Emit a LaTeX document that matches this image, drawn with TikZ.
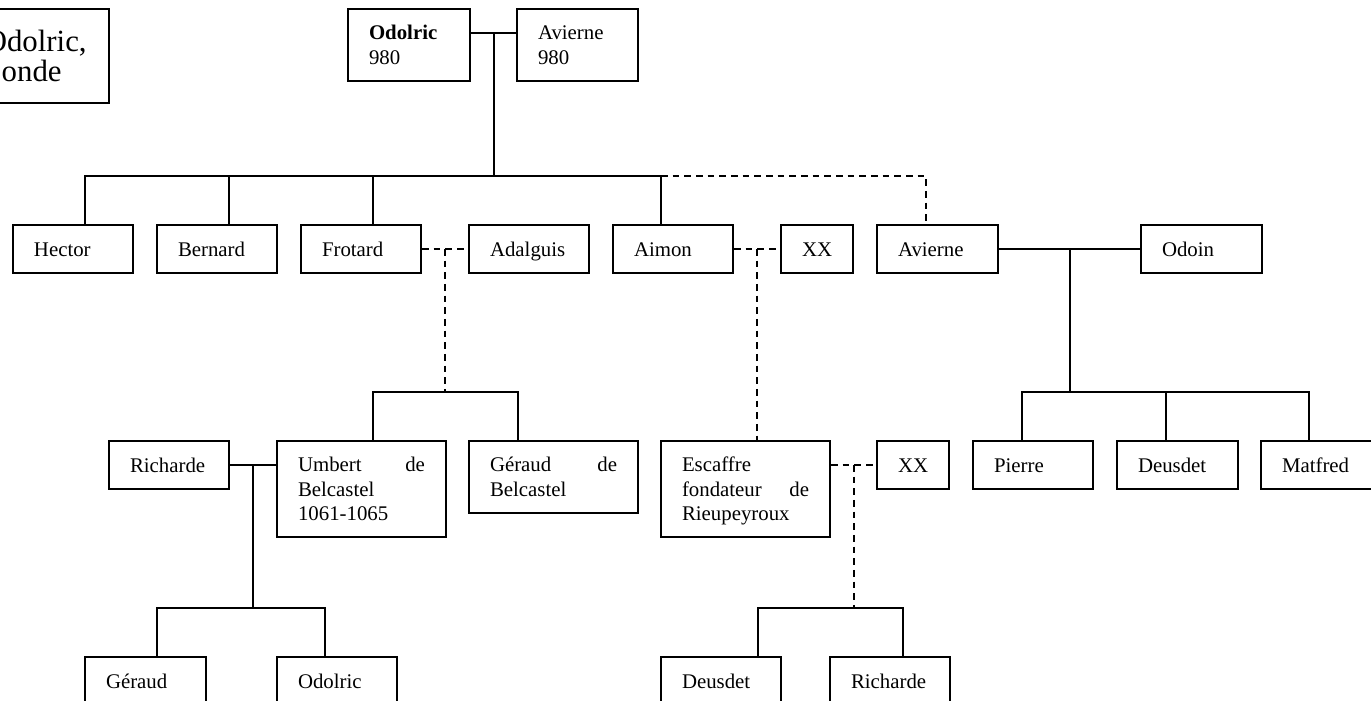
\documentclass[tikz,border=0pt]{standalone}
\usepackage{fontspec}
\setmainfont{Liberation Serif}
\usetikzlibrary{positioning, calc}

\begin{document}
\begin{tikzpicture}[x=0.6pt, y=-0.6pt]
	\tikzset{
		person/.style={
				draw, line width=1.2pt, anchor=north west, align=left,
				inner xsep=12.6pt, inner ysep=0pt, minimum height=28.8pt,
				font=\fontsize{12.5}{14.7}\selectfont,
				execute at begin node=\rule[-3.1pt]{0pt}{14.7pt},
				execute at end node=\rule[-3.1pt]{0pt}{14.7pt},
			},
		w120/.style={text width=46.8pt},
		w121/.style={text width=47.4pt},
		w122/.style={text width=48pt},
		w72/.style={text width=18pt},
		w169/.style={text width=76.2pt},
		h72/.style={minimum height=43.2pt},
		h96/.style={minimum height=57.6pt},
		link/.style={line width=1.2pt},
		wed/.style={line width=1.2pt, dash pattern=on 4pt off 3pt},
	}
	\useasboundingbox (0,0) rectangle (1371,701);
	\clip (0,0) rectangle (1371,701);

	% title box
	\node[draw, line width=1.2pt, anchor=north west, minimum width=88.8pt, minimum height=56.4pt] (ttl) at (-40,8) {};
	\node[anchor=base east, inner sep=0pt, font=\fontsize{18.5}{22}\selectfont] (ttlA) at (87,52) {Odolric,};
	\node[anchor=base east, inner sep=0pt, font=\fontsize{18.5}{22}\selectfont] (ttlB) at (62,82) {onde};

	% first couple
	\node[person, w122, h72] (odolric) at (347,8) {\textbf{Odolric}\\980};
	\node[person, w121, h72] (avierneA) at (516,8) {Avierne\\980};

	% their children
	\node[person, w120] (hector) at (12,224) {Hector};
	\node[person, w120] (bernard) at (156,224) {Bernard};
	\node[person, w120] (frotard) at (300,224) {Frotard};
	\node[person, w120] (adalguis) at (468,224) {Adalguis};
	\node[person, w120] (aimon) at (612,224) {Aimon};
	\node[person, w72] (xxA) at (780,224) {XX};
	\node[person, w121] (avierneB) at (876,224) {Avierne};
	\node[person, w121] (odoin) at (1140,224) {Odoin};

	% grandchildren
	\node[person, w120] (richardeA) at (108,440) {Richarde};
	\node[person, w169, h96] (umbert) at (276,440) {Umbert\hfill de\\Belcastel\\1061-1065};
	\node[person, w169, h72] (gerB) at (468,440) {Géraud\hfill de\\Belcastel};
	\node[person, w169, h96] (escaffre) at (660,440) {Escaffre\\fondateur\hfill de\\Rieupeyroux};
	\node[person, w72] (xxB) at (876,440) {XX};
	\node[person, w120] (pierre) at (972,440) {Pierre};
	\node[person, w121] (deusdetA) at (1116,440) {Deusdet};
	\node[person, w120] (matfred) at (1260,440) {Matfred};

	% last row
	\node[person, w121] (geraud) at (84,656) {Géraud};
	\node[person, w120] (odolricB) at (276,656) {Odolric};
	\node[person, w120] (deusdetB) at (660,656) {Deusdet};
	\node[person, w120] (richardeB) at (829,656) {Richarde};

	% Odolric + Avierne
	\draw[link] ([yshift=7.2pt]odolric.east) -- ([yshift=7.2pt]avierneA.west);
	\coordinate (cpl1) at ($([yshift=7.2pt]odolric.east)!.5!([yshift=7.2pt]avierneA.west)$);
	\draw[link] (cpl1) -- ++(0,144);
	\draw[link] ([xshift=7.2pt]hector.north) |- ([xshift=-7.2pt,yshift=28.8pt]aimon.north) -- ([xshift=-7.2pt]aimon.north);
	\foreach \n in {bernard,frotard}
	\draw[link] ([xshift=7.2pt]\n.north) -- ++(0,-48);
	\draw[wed] ([xshift=-7.2pt,yshift=28.8pt]aimon.north) -| ([xshift=-6.9pt]avierneB.north);

	% Frotard + Adalguis
	\draw[wed] (frotard.east) -- (adalguis.west);
	\coordinate (cpl2) at ($(frotard.east)!.5!(adalguis.west)$);
	\draw[wed] (cpl2) -- ++(0,144);
	\draw[link] ([xshift=6.9pt]umbert.north) |- ([xshift=-21.3pt,yshift=28.8pt]gerB.north) -- ([xshift=-21.3pt]gerB.north);

	% Aimon + XX
	\draw[wed] (aimon.east) -- (xxA.west);
	\coordinate (cpl3) at ($(aimon.east)!.5!(xxA.west)$);
	\draw[wed] (cpl3) -- (cpl3 |- escaffre.north);

	% Avierne + Odoin
	\draw[link] (avierneB.east) -- (odoin.west);
	\coordinate (cpl4) at ($(avierneB.east)!.5!(odoin.west)$);
	\draw[link] (cpl4) -- ++(0,144);
	\draw[link] ([xshift=-6.6pt]pierre.north) |- ([xshift=-7.2pt,yshift=28.8pt]matfred.north) -- ([xshift=-7.2pt]matfred.north);
	\draw[link] ([xshift=-7.2pt]deusdetA.north) -- ++(0,-48);

	% Richarde + Umbert
	\draw[link] (richardeA.east) -- (richardeA.east -| umbert.west);
	\coordinate (cpl5) at ($(richardeA.east)!.5!(richardeA.east -| umbert.west)$);
	\draw[link] (cpl5) -- ++(0,144);
	\draw[link] ([xshift=6.9pt]geraud.north) |- ([xshift=-7.2pt,yshift=28.8pt]odolricB.north) -- ([xshift=-7.2pt]odolricB.north);

	% Escaffre + XX
	\draw[wed] (xxB.west -| escaffre.east) -- (xxB.west);
	\coordinate (cpl6) at ($(xxB.west -| escaffre.east)!.5!(xxB.west)$);
	\draw[wed] (cpl6) -- ++(0,144);
	\draw[link] ([xshift=22.2pt]deusdetB.north) |- ([xshift=7.5pt,yshift=28.8pt]richardeB.north) -- ([xshift=7.5pt]richardeB.north);
\end{tikzpicture}
\end{document}
